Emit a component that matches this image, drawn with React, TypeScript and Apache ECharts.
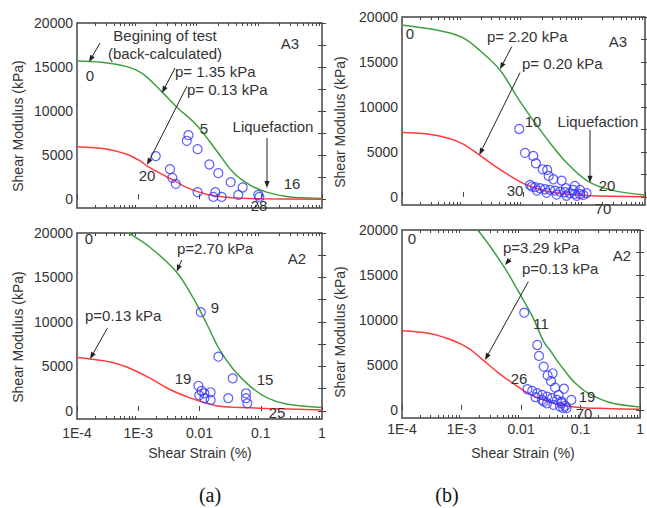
import React, { useEffect, useRef } from 'react';
import * as echarts from 'echarts';

const FONT = '"Liberation Sans", Arial, Helvetica, sans-serif';
const TXT = '#333';

// x tick labels (log axis decades)
const xTickLabels = ['1E-4', '1E-3', '0.01', '0.1', '1'];
const yTickLabels = [0, 5000, 10000, 15000, 20000];
const yMinorTicks = [0, 2500, 5000, 7500, 10000, 12500, 15000, 17500, 20000];

// ---------- (a) A3 ----------
const tlGreen = [[1e-4, 15700], [2.5e-4, 15550], [6.5e-4, 15050], [1.2e-3, 14200], [2.5e-3, 12100], [4.2e-3, 10500], [9e-3, 8400], [0.019, 5500], [0.036, 3000], [0.067, 1600], [0.125, 800], [0.26, 300], [0.5, 150], [1, 80]];
const tlRed = [[1e-4, 5950], [3e-4, 5700], [6.5e-4, 5100], [1.1e-3, 4300], [1.4e-3, 3750], [2.9e-3, 2550], [4e-3, 2050], [6.5e-3, 1250], [0.013, 550], [0.025, 250], [0.05, 100], [0.1, 40], [1, 0]];
const tlPoints = [[0.0066, 7270], [0.0062, 6630], [0.0093, 5680], [0.00193, 4890], [0.0145, 3940], [0.0203, 2950], [0.0033, 3410], [0.0036, 2420], [0.0041, 1740], [0.0323, 1930], [0.0507, 1330], [0.0093, 800], [0.0181, 800], [0.0168, 260], [0.023, 260], [0.043, 490], [0.091, 490], [0.095, 260]];

// ---------- (b) A3 ----------
const trGreen = [[1e-4, 19100], [4.8e-4, 18400], [1e-3, 17700], [1.9e-3, 16300], [4.1e-3, 14100], [8.2e-3, 10900], [0.0145, 8500], [0.0273, 6000], [0.0512, 3800], [0.109, 1850], [0.27, 780], [1, 220]];
const trRed = [[1e-4, 7150], [3e-4, 6950], [6e-4, 6500], [1e-3, 5900], [1.8e-3, 4750], [3.8e-3, 3200], [9e-3, 1650], [0.0145, 1050], [0.031, 500], [0.109, 150], [1, 30]];
const trPoints = [[0.0085, 7550], [0.0106, 4900], [0.0145, 4560], [0.016, 3740], [0.0207, 3070], [0.0246, 3000], [0.026, 2330], [0.031, 1960], [0.0425, 1810], [0.0498, 960], [0.07, 1220], [0.0852, 780], [0.109, 410],
  [0.0128, 1330], [0.0155, 1080], [0.0187, 960], [0.0226, 850], [0.0273, 780], [0.033, 700], [0.0398, 590], [0.048, 520], [0.058, 410], [0.07, 330], [0.085, 300],
  [0.0137, 1150], [0.0166, 700], [0.024, 450], [0.035, 250], [0.051, 130], [0.075, 120], [0.096, 220], [0.0656, 780]];

// ---------- (a) A2 ----------
const blGreen = [[2e-4, 21500], [4e-4, 20800], [6.9e-4, 20000], [1.55e-3, 18400], [4.24e-3, 15600], [7.9e-3, 12700], [0.0131, 9800], [0.0216, 6800], [0.0356, 4700], [0.0667, 2800], [0.125, 1500], [0.263, 780], [1, 400]];
const blRed = [[1e-4, 6000], [1.6e-4, 5850], [3.5e-4, 5500], [6.5e-4, 4950], [1.55e-3, 3700], [3.1e-3, 2500], [6.8e-3, 1500], [0.0131, 870], [0.0216, 520], [0.035, 430], [0.125, 290], [1, 100]];
const blPoints = [[0.0105, 11100], [0.0203, 6100], [0.0348, 3670], [0.0096, 2830], [0.0108, 2250], [0.0099, 1760], [0.012, 1990], [0.012, 1430], [0.0152, 2100], [0.0152, 1240], [0.0295, 1450], [0.0574, 1990], [0.0574, 1450], [0.0603, 860]];

// ---------- (b) A2 ----------
const brGreen = [[1e-3, 21600], [1.87e-3, 20000], [4.96e-3, 16100], [9e-3, 13200], [0.0155, 10400], [0.024, 7600], [0.031, 6600], [0.04, 5500], [0.058, 4100], [0.075, 3200], [0.124, 2000], [0.3, 850], [1, 330]];
const brRed = [[1e-4, 8800], [2.9e-4, 8500], [7e-4, 7750], [1.32e-3, 6850], [2.2e-3, 5650], [4.1e-3, 4150], [8.5e-3, 2650], [0.0145, 1700], [0.024, 1100], [0.04, 650], [0.085, 300], [0.3, 150], [1, 60]];
const brPoints = [[0.0113, 10810], [0.0187, 7220], [0.02, 6000], [0.024, 4810], [0.028, 3830], [0.034, 4070], [0.0318, 3200], [0.0373, 2470], [0.0525, 2350], [0.07, 1110], [0.0427, 1670], [0.048, 930],
  [0.0128, 2300], [0.0154, 2110], [0.0187, 1850], [0.0226, 1670], [0.0273, 1480], [0.033, 1300], [0.04, 1110], [0.048, 740], [0.055, 440], [0.058, 190],
  [0.0175, 1410], [0.0226, 1110], [0.0273, 740], [0.035, 560], [0.045, 370], [0.051, 190], [0.024, 930]];

const panels = [
  { left: 77, top: 23, width: 245, height: 185, min: -1000, xLabels: false, green: tlGreen, red: tlRed, pts: tlPoints },
  { left: 402, top: 17, width: 243, height: 188, min: -900, xLabels: false, green: trGreen, red: trRed, pts: trPoints },
  { left: 77, top: 233, width: 245, height: 186, min: -900, xLabels: true, green: blGreen, red: blRed, pts: blPoints },
  { left: 402, top: 230, width: 243, height: 188, min: -900, xLabels: true, green: brGreen, red: brRed, pts: brPoints },
];

// minor tick positions in decade (log10) units for the helper value axes
const minorExp: number[] = [];
for (let e = -4; e < 0; e++) {
  for (let m = 2; m <= 9; m++) minorExp.push(e + Math.log10(m));
}

function txt(text: string, x: number, y: number, size = 15, align = 'center', extra: any = {}) {
  return {
    type: 'text', x, y, z: 100, ...extra,
    style: { text, fill: TXT, fontSize: size, fontFamily: FONT, align, verticalAlign: 'middle' },
  };
}

function arrow(x1: number, y1: number, x2: number, y2: number) {
  const ang = Math.atan2(y2 - y1, x2 - x1);
  const L = 7, W = 2.6;
  const bx = x2 - L * Math.cos(ang), by = y2 - L * Math.sin(ang);
  const px = -Math.sin(ang) * W, py = Math.cos(ang) * W;
  return [
    { type: 'line', z: 100, shape: { x1, y1, x2: bx, y2: by }, style: { stroke: '#222', lineWidth: 1 } },
    { type: 'polygon', z: 100, shape: { points: [[x2, y2], [bx + px, by + py], [bx - px, by - py]] }, style: { fill: '#222' } },
  ];
}

export default function App() {
  const ref = useRef<HTMLDivElement>(null);
  useEffect(() => {
    if (!ref.current) return;
    const chart = echarts.init(ref.current, null, { renderer: 'svg' });
    const grid: any[] = [];
    const xAxis: any[] = [];
    const yAxis: any[] = [];
    const series: any[] = [];
    const tickStyle = { color: '#444' };
    panels.forEach((p, i) => {
      grid.push({ left: p.left, top: p.top, width: p.width, height: p.height, show: true, borderColor: '#444', borderWidth: 1.5, backgroundColor: 'transparent' });
      // data axis (log), hidden
      xAxis.push({
        type: 'log', logBase: 10, gridIndex: i, min: 1e-4, max: 1, position: 'bottom',
        axisLine: { show: false }, splitLine: { show: false }, axisTick: { show: false }, axisLabel: { show: false },
      });
      // major ticks + labels (decade units)
      xAxis.push({
        type: 'value', gridIndex: i, min: -4, max: 0, interval: 1, position: 'bottom',
        axisLine: { show: false }, splitLine: { show: false },
        axisTick: { show: true, inside: true, length: 5, lineStyle: tickStyle },
        axisLabel: {
          show: p.xLabels, color: TXT, fontSize: 14, fontFamily: FONT, margin: i === 2 ? 7 : 4,
          formatter: (v: number) => xTickLabels[Math.round(v) + 4] ?? '',
        },
      });
      // minor ticks bottom
      xAxis.push({
        type: 'value', gridIndex: i, min: -4, max: 0, position: 'bottom',
        axisLine: { show: false }, splitLine: { show: false }, axisLabel: { show: false },
        axisTick: { show: true, inside: true, length: 3, customValues: minorExp, lineStyle: tickStyle },
      });
      // ticks top
      xAxis.push({
        type: 'value', gridIndex: i, min: -4, max: 0, position: 'top',
        axisLine: { show: false }, splitLine: { show: false }, axisLabel: { show: false },
        axisTick: { show: true, inside: true, length: 3, customValues: minorExp, lineStyle: tickStyle },
      });
      yAxis.push({
        type: 'value', gridIndex: i, min: p.min, max: 20000, position: 'left',
        axisLine: { show: false }, splitLine: { show: false },
        axisTick: { show: true, inside: true, length: 4, customValues: yMinorTicks, lineStyle: tickStyle },
        axisLabel: {
          show: true, color: TXT, fontSize: 14, fontFamily: FONT, margin: 4, customValues: yTickLabels,
          formatter: (v: number) => String(Math.round(v)),
        },
      });
      yAxis.push({
        type: 'value', gridIndex: i, min: p.min, max: 20000, position: 'right',
        axisLine: { show: false }, splitLine: { show: false }, axisLabel: { show: false },
        axisTick: { show: true, inside: true, length: 4, customValues: yMinorTicks, lineStyle: tickStyle },
      });
      const xi = i * 4, yi = i * 2;
      series.push({
        type: 'line', xAxisIndex: xi, yAxisIndex: yi, data: p.green, smooth: 0.35, showSymbol: false, clip: true,
        lineStyle: { color: '#3f9f3f', width: 1.5 }, z: 3,
      });
      series.push({
        type: 'line', xAxisIndex: xi, yAxisIndex: yi, data: p.red, smooth: 0.35, showSymbol: false, clip: true,
        lineStyle: { color: '#ff3b3b', width: 1.5 }, z: 3,
      });
      series.push({
        type: 'scatter', xAxisIndex: xi, yAxisIndex: yi, data: p.pts, symbol: 'circle', symbolSize: 9,
        itemStyle: { color: 'rgba(0,0,0,0)', borderColor: '#3535ff', borderWidth: 1.2 }, z: 4,
      });
    });

    const graphic: any[] = [
      // y axis names
      txt('Shear Modulus (kPa)', 18, 126, 14, 'center', { rotation: Math.PI / 2 }),
      txt('Shear Modulus (kPa)', 340, 122, 14, 'center', { rotation: Math.PI / 2 }),
      txt('Shear Modulus (kPa)', 18, 337, 14, 'center', { rotation: Math.PI / 2 }),
      txt('Shear Modulus (kPa)', 340, 332, 14, 'center', { rotation: Math.PI / 2 }),
      txt('Shear Strain (%)', 200, 453, 14),
      txt('Shear Strain (%)', 523, 453, 14),
      {
        type: 'text', x: 210, y: 495, z: 100,
        style: { text: '(a)', fill: '#111', fontSize: 20, fontFamily: '"Liberation Serif", "Times New Roman", serif', align: 'center', verticalAlign: 'middle' },
      },
      {
        type: 'text', x: 447, y: 495, z: 100,
        style: { text: '(b)', fill: '#111', fontSize: 20, fontFamily: '"Liberation Serif", "Times New Roman", serif', align: 'center', verticalAlign: 'middle' },
      },
      // TL
      txt('Begining of test', 165, 35),
      txt('(back-calculated)', 165, 53),
      txt('0', 90, 75),
      txt('A3', 290, 43),
      txt('p= 1.35 kPa', 175, 71, 15, 'left'),
      txt('p= 0.13 kPa', 187, 89, 15, 'left'),
      txt('5', 204, 128),
      txt('Liquefaction', 273, 126),
      txt('16', 292, 183),
      txt('28', 259, 205),
      txt('20', 147, 175),
      ...arrow(100, 43, 89, 62),
      ...arrow(175, 68, 162, 93),
      ...arrow(187, 86, 147, 165),
      ...arrow(267, 138, 267, 188),
      // TR
      txt('0', 410, 33),
      txt('p= 2.20 kPa', 487, 36, 15, 'left'),
      txt('A3', 618, 41),
      txt('p= 0.20 kPa', 522, 63, 15, 'left'),
      txt('10', 533, 121),
      txt('Liquefaction', 598, 121),
      txt('20', 607, 185),
      txt('30', 515, 190),
      txt('70', 603, 208),
      ...arrow(511.7, 46.7, 500, 69.3),
      ...arrow(520, 72.7, 479.3, 155),
      ...arrow(590, 130, 590, 182.7),
      // BL
      txt('0', 89, 238),
      txt('p=2.70 kPa', 177, 248, 15, 'left'),
      txt('A2', 297, 258),
      txt('9', 215, 307),
      txt('p=0.13 kPa', 85, 315, 15, 'left'),
      txt('19', 183, 378),
      txt('15', 265, 379),
      txt('25', 277, 412),
      ...arrow(181.7, 260, 176.7, 271.7),
      ...arrow(107.3, 328.3, 90, 359),
      // BR
      txt('0', 412, 238),
      txt('p=3.29 kPa', 503, 247, 15, 'left'),
      txt('A2', 622, 255),
      txt('p=0.13 kPa', 522, 268, 15, 'left'),
      txt('11', 541, 323),
      txt('26', 519, 378),
      txt('19', 587, 396),
      txt('70', 584, 413),
      ...arrow(510.7, 258.3, 505, 265),
      ...arrow(528.3, 281.7, 485, 360),
    ];

    chart.setOption({
      animation: false,
      backgroundColor: '#fff',
      grid, xAxis, yAxis, series, graphic,
    });
    return () => chart.dispose();
  }, []);
  return <div ref={ref} style={{ position: 'absolute', left: 0, top: 0, width: 647, height: 508 }} />;
}
